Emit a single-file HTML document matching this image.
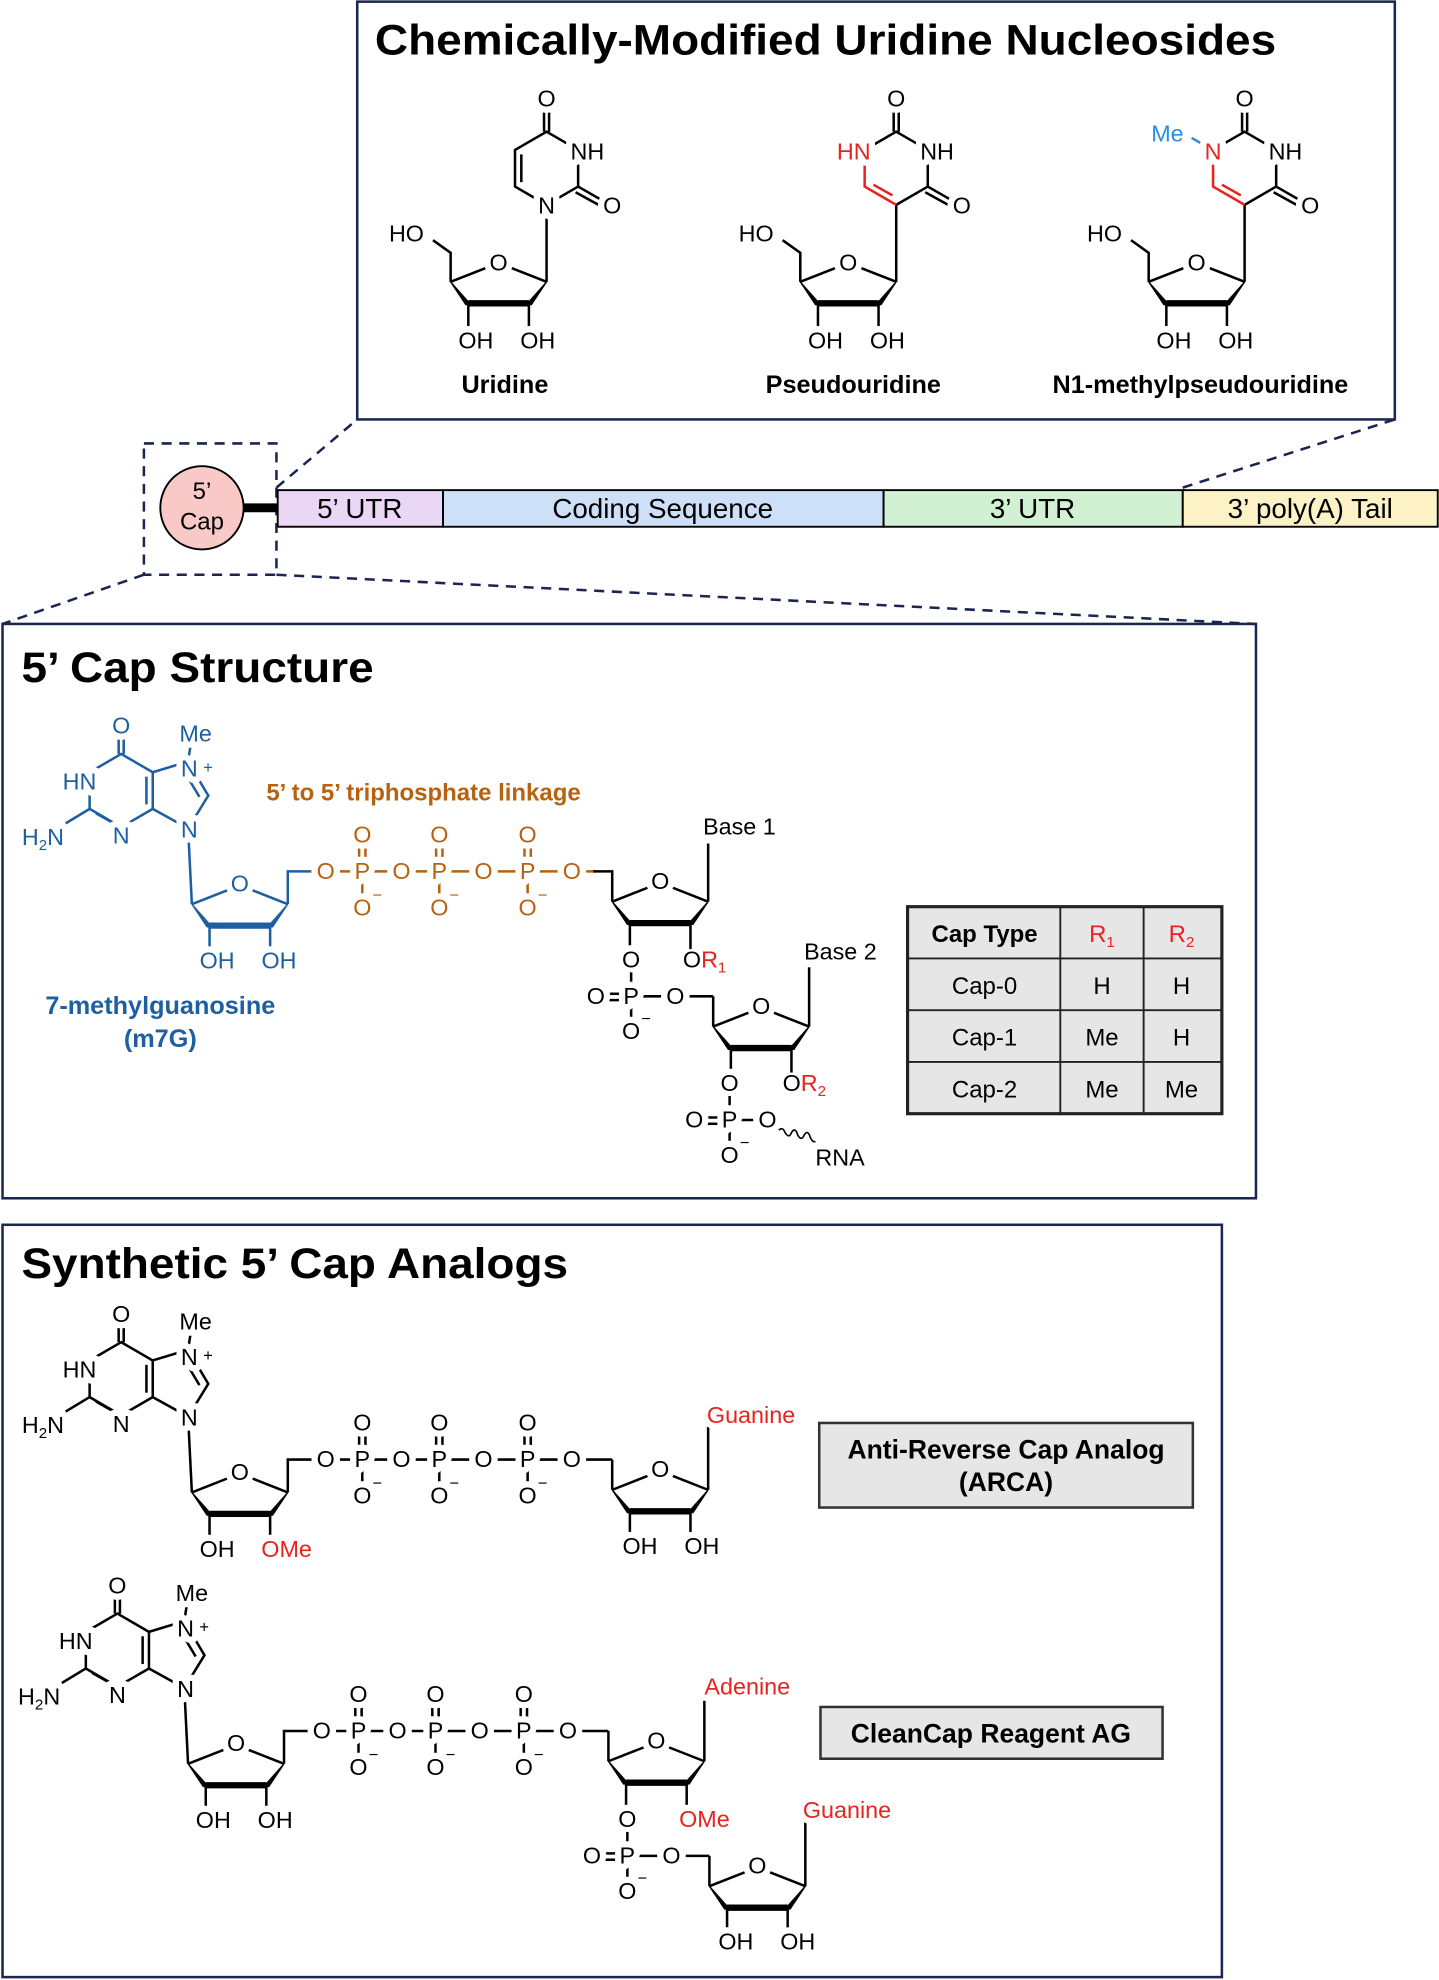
<!DOCTYPE html>
<html><head><meta charset="utf-8"><style>
html,body{margin:0;padding:0;background:#fff}
svg{display:block}
text{font-family:"Liberation Sans",sans-serif;paint-order:stroke;stroke:#fff;stroke-width:10px;stroke-linejoin:round}
text.m{stroke-width:4px}
.a{font-size:18.5px;text-anchor:middle}
.s{font-size:18.5px}
.t{font-weight:bold;font-size:34px;stroke:none}
.lb{font-weight:bold;font-size:20px;text-anchor:middle;stroke:none}
.mol line,.mol path,.mol polyline{stroke:currentColor;fill:none;stroke-width:2}
.mol text{fill:currentColor}
.r{fill:#e8231f !important}
.bar text{font-size:22px;text-anchor:middle;stroke:none}
.tb text{font-size:19px;text-anchor:middle;stroke:none}
</style></head><body>
<svg width="1439" height="1980" viewBox="0 0 1140 1568" xmlns="http://www.w3.org/2000/svg">
<defs>
<g id="ribA">
<line x1="-10" y1="5" x2="-38" y2="16" stroke="currentColor" stroke-width="2"/>
<line x1="10" y1="5" x2="38" y2="16" stroke="currentColor" stroke-width="2"/>
<polygon points="-38,16 -22,34 -26,34" fill="currentColor" stroke="currentColor" stroke-width="1"/>
<polygon points="38,16 22,34 26,34" fill="currentColor" stroke="currentColor" stroke-width="1"/>
<line x1="-24" y1="33" x2="24" y2="33" stroke="currentColor" stroke-width="5"/>
</g>
</defs>

<!-- Top box -->
<rect x="283" y="1" width="822" height="331" fill="#fff" stroke="#1a2550" stroke-width="2"/>
<text x="297" y="43" class="t" textLength="714" lengthAdjust="spacingAndGlyphs">Chemically-Modified Uridine Nucleosides</text>

<!-- Uridine -->
<g class="mol" style="color:#000">
<use href="#ribA" x="395" y="207"/>
<text class="a" x="395" y="214">O</text>
<line x1="433" y1="223" x2="433" y2="162"/>
<polyline points="357,223 357,200 343,190"/>
<text class="a" x="322" y="191">HO</text>
<line x1="371" y1="240" x2="371" y2="258"/><line x1="419" y1="240" x2="419" y2="258"/>
<text class="a" x="377" y="276">OH</text><text class="a" x="426" y="276">OH</text>
<path d="M433,162 L458,147.5 L458,118.5 L433,104 L408,118.5 L408,147.5 Z"/>
<line x1="413" y1="122" x2="413" y2="144"/>
<line x1="458" y1="147.5" x2="478" y2="159"/><line x1="456" y1="152" x2="476" y2="163"/>
<line x1="431" y1="104" x2="431" y2="86"/><line x1="435" y1="104" x2="435" y2="86"/>
<text class="a" x="433" y="169">N</text>
<text class="s" x="452" y="126">NH</text>
<text class="a" x="485" y="169">O</text>
<text class="a" x="433" y="84">O</text>
<text class="lb" x="400" y="311">Uridine</text>
</g>

<!-- Pseudouridine -->
<g class="mol" style="color:#000">
<use href="#ribA" x="672" y="207"/>
<text class="a" x="672" y="214">O</text>
<line x1="710" y1="223" x2="710" y2="162"/>
<polyline points="634,223 634,200 620,190"/>
<text class="a" x="599" y="191">HO</text>
<line x1="648" y1="240" x2="648" y2="258"/><line x1="696" y1="240" x2="696" y2="258"/>
<text class="a" x="654" y="276">OH</text><text class="a" x="703" y="276">OH</text>
<path d="M710,162 L735,147.5 L735,118.5 L710,104 L685,118.5"/>
<path d="M685,118.5 L685,147.5 L710,162" style="stroke:#e8231f"/>
<line x1="692" y1="146" x2="707" y2="154.5" style="stroke:#e8231f"/>
<line x1="735" y1="147.5" x2="755" y2="159"/><line x1="733" y1="152" x2="753" y2="163"/>
<line x1="708" y1="104" x2="708" y2="86"/><line x1="712" y1="104" x2="712" y2="86"/>
<text class="s" x="729" y="126">NH</text>
<text class="s r" x="663" y="126">HN</text>
<text class="a" x="762" y="169">O</text>
<text class="a" x="710" y="84">O</text>
<text class="lb" x="676" y="311">Pseudouridine</text>
</g>

<!-- N1-methylpseudouridine -->
<g class="mol" style="color:#000">
<use href="#ribA" x="948" y="207"/>
<text class="a" x="948" y="214">O</text>
<line x1="986" y1="223" x2="986" y2="162"/>
<polyline points="910,223 910,200 896,190"/>
<text class="a" x="875" y="191">HO</text>
<line x1="924" y1="240" x2="924" y2="258"/><line x1="972" y1="240" x2="972" y2="258"/>
<text class="a" x="930" y="276">OH</text><text class="a" x="979" y="276">OH</text>
<path d="M986,162 L1011,147.5 L1011,118.5 L986,104 L961,118.5"/>
<path d="M961,118.5 L961,147.5 L986,162" style="stroke:#e8231f"/>
<line x1="968" y1="146" x2="983" y2="154.5" style="stroke:#e8231f"/>
<line x1="961" y1="118.5" x2="944" y2="109" style="stroke:#2a8de0"/>
<line x1="1011" y1="147.5" x2="1031" y2="159"/><line x1="1009" y1="152" x2="1029" y2="163"/>
<line x1="984" y1="104" x2="984" y2="86"/><line x1="988" y1="104" x2="988" y2="86"/>
<text class="s" x="1005" y="126">NH</text>
<text class="a r" x="961" y="126">N</text>
<text class="s m" x="912" y="112" style="fill:#2a8de0">Me</text>
<text class="a" x="1038" y="169">O</text>
<text class="a" x="986" y="84">O</text>
<text class="lb" x="951" y="311">N1-methylpseudouridine</text>
</g>

<!-- dashed connectors -->
<g stroke="#1a2550" stroke-width="2" stroke-dasharray="8,6" fill="none">
<rect x="114" y="351" width="105" height="104"/>
<line x1="219" y1="386" x2="283" y2="332"/>
<line x1="937" y1="386" x2="1105" y2="332"/>
<line x1="114" y1="455" x2="2" y2="494"/>
<line x1="219" y1="455" x2="995" y2="494"/>
</g>

<!-- mRNA bar -->
<g class="bar">
<line x1="190" y1="402" x2="222" y2="402" stroke="#000" stroke-width="7"/>
<circle cx="160" cy="402" r="33" fill="#f8c9c6" stroke="#000" stroke-width="1.5"/>
<text x="160" y="395" style="font-size:19px">5’</text>
<text x="160" y="419" style="font-size:19px">Cap</text>
<rect x="220" y="388" width="131" height="29" fill="#ead6f5" stroke="#000" stroke-width="1.5"/>
<rect x="351" y="388" width="349" height="29" fill="#cde0f7" stroke="#000" stroke-width="1.5"/>
<rect x="700" y="388" width="237" height="29" fill="#d2f0d2" stroke="#000" stroke-width="1.5"/>
<rect x="937" y="388" width="202" height="29" fill="#fdf2c6" stroke="#000" stroke-width="1.5"/>
<text x="285" y="410">5’ UTR</text>
<text x="525" y="410">Coding Sequence</text>
<text x="818" y="410">3’ UTR</text>
<text x="1038" y="410">3’ poly(A) Tail</text>
</g>

<!-- Cap structure box -->
<rect x="2" y="494" width="993" height="455" fill="none" stroke="#1a2550" stroke-width="2"/>
<text x="17" y="540" class="t" textLength="279" lengthAdjust="spacingAndGlyphs">5’ Cap Structure</text>

<!-- m7G blue -->
<g class="mol" style="color:#1d5fa0">
<path d="M96,597 L71,611.5 L71,640.5 L96,655 L121,640.5 L121,611.5 Z"/>
<path d="M121,611.5 L149,603 L165,630 L149,656 L121,640.5"/>
<line x1="116" y1="615" x2="116" y2="637"/>
<line x1="76" y1="644" x2="92" y2="653"/>
<line x1="146" y1="611" x2="158" y2="631"/>
<line x1="94" y1="597" x2="94" y2="583"/><line x1="98" y1="597" x2="98" y2="583"/>
<line x1="71" y1="640.5" x2="52" y2="652"/>
<line x1="149" y1="603" x2="151" y2="590"/>
<line x1="149" y1="656" x2="152" y2="716"/>
<text class="a" x="96" y="581">O</text>
<text class="a" x="155" y="587">Me</text>
<text class="a" x="150" y="615">N</text><text class="m" x="161" y="612" style="font-size:13px">+</text>
<text class="a" x="63" y="625">HN</text>
<text class="a m" x="34" y="669">H<tspan font-size="12" dy="4">2</tspan><tspan dy="-4">N</tspan></text>
<text class="a" x="96" y="668">N</text>
<text class="a" x="150" y="663">N</text>
<use href="#ribA" transform="translate(190,700) scale(-1,1)"/>
<text class="a" x="190" y="706">O</text>
<line x1="166" y1="733" x2="166" y2="751"/><line x1="214" y1="733" x2="214" y2="751"/>
<text class="a" x="172" y="767">OH</text><text class="a" x="221" y="767">OH</text>
<polyline points="228,716 228,690 248,690"/>
<text class="lb" x="127" y="803" style="font-size:20px">7-methylguanosine</text>
<text class="lb" x="127" y="829" style="font-size:20px">(m7G)</text>
</g>

<!-- triphosphate orange -->
<g class="mol" style="color:#b8620f">
<line x1="246" y1="690" x2="472" y2="690"/>
<g id="ph">
<line x1="284.5" y1="671" x2="284.5" y2="682"/><line x1="289.5" y1="671" x2="289.5" y2="682"/>
<line x1="287" y1="699" x2="287" y2="711"/>
</g>
<use href="#ph" x="61"/><use href="#ph" x="131"/>
<text class="a" x="258" y="696">O</text><text class="a" x="287" y="696">P</text>
<text class="a" x="318" y="696">O</text><text class="a" x="348" y="696">P</text>
<text class="a" x="383" y="696">O</text><text class="a" x="418" y="696">P</text>
<text class="a" x="453" y="696">O</text>
<text class="a" x="287" y="667">O</text><text class="a" x="348" y="667">O</text><text class="a" x="418" y="667">O</text>
<text class="a" x="287" y="725">O</text><text class="a" x="348" y="725">O</text><text class="a" x="418" y="725">O</text>
<text class="m" x="295" y="713" style="font-size:13px">−</text><text class="m" x="356" y="713" style="font-size:13px">−</text><text class="m" x="426" y="713" style="font-size:13px">−</text>
<text x="211" y="634" style="font-weight:bold;font-size:19px;stroke:none">5’ to 5’ triphosphate linkage</text>
</g>

<!-- black riboses cap -->
<g class="mol" style="color:#000">
<polyline points="470,690 485,690 485,714"/>
<use href="#ribA" x="523" y="698"/>
<text class="a" x="523" y="704">O</text>
<line x1="561" y1="714" x2="561" y2="668"/>
<text class="s" x="557" y="661">Base 1</text>
<line x1="499" y1="731" x2="499" y2="752"/><line x1="547" y1="731" x2="547" y2="752"/>
<text class="a" x="500" y="766">O</text>
<text class="s m" x="541" y="766">O<tspan class="r">R</tspan><tspan class="r" font-size="12" dy="4">1</tspan></text>
<line x1="500" y1="770" x2="500" y2="782"/>
<line x1="480" y1="787" x2="492" y2="787"/><line x1="480" y1="792" x2="492" y2="792"/>
<line x1="508" y1="789" x2="565" y2="789"/>
<line x1="500" y1="798" x2="500" y2="808"/>
<text class="a" x="500" y="795">P</text><text class="a" x="472" y="795">O</text><text class="a" x="535" y="795">O</text>
<text class="a" x="500" y="823">O</text><text class="m" x="508" y="811" style="font-size:13px">−</text>
<line x1="565" y1="789" x2="565" y2="813"/>
<use href="#ribA" x="603" y="797"/>
<text class="a" x="603" y="803">O</text>
<line x1="641" y1="813" x2="641" y2="766"/>
<text class="s" x="637" y="760">Base 2</text>
<line x1="579" y1="830" x2="579" y2="850"/><line x1="627" y1="830" x2="627" y2="850"/>
<text class="a" x="578" y="864">O</text>
<text class="s m" x="620" y="864">O<tspan class="r">R</tspan><tspan class="r" font-size="12" dy="4">2</tspan></text>
<line x1="578" y1="868" x2="578" y2="881"/>
<line x1="558" y1="885" x2="570" y2="885"/><line x1="558" y1="890" x2="570" y2="890"/>
<line x1="586" y1="887" x2="600" y2="887"/>
<line x1="578" y1="896" x2="578" y2="906"/>
<text class="a" x="578" y="893">P</text><text class="a" x="550" y="893">O</text><text class="a" x="608" y="893">O</text>
<text class="a" x="578" y="921">O</text><text class="m" x="586" y="909" style="font-size:13px">−</text>
<path d="M617,895 q3,-3 5,2 q3,5 5,0 q3,-5 5,2 q3,5 5,0 q3,-5 5,2 q2,4 4,3" style="stroke-width:1.3"/>
<text class="s" x="646" y="923">RNA</text>
</g>

<!-- table -->
<g class="tb">
<rect x="719" y="718" width="249" height="164" fill="#e6e6e6" stroke="#222" stroke-width="2.5"/>
<g stroke="#222" stroke-width="1.5">
<line x1="840" y1="718" x2="840" y2="882"/><line x1="906" y1="718" x2="906" y2="882"/>
<line x1="719" y1="759" x2="968" y2="759"/><line x1="719" y1="800" x2="968" y2="800"/><line x1="719" y1="841" x2="968" y2="841"/>
</g>
<text x="780" y="746" font-weight="bold">Cap Type</text>
<text x="873" y="746" fill="#e8231f">R<tspan font-size="12" dy="4">1</tspan></text>
<text x="936" y="746" fill="#e8231f">R<tspan font-size="12" dy="4">2</tspan></text>
<text x="780" y="787">Cap-0</text><text x="873" y="787">H</text><text x="936" y="787">H</text>
<text x="780" y="828">Cap-1</text><text x="873" y="828">Me</text><text x="936" y="828">H</text>
<text x="780" y="869">Cap-2</text><text x="873" y="869">Me</text><text x="936" y="869">Me</text>
</g>

<!-- Analogs box -->
<rect x="2" y="970" width="966" height="596" fill="none" stroke="#1a2550" stroke-width="2"/>
<text x="17" y="1012" class="t" textLength="433" lengthAdjust="spacingAndGlyphs">Synthetic 5’ Cap Analogs</text>

<!-- ARCA -->
<g class="mol" style="color:#000" transform="translate(0,466)">
<path d="M96,597 L71,611.5 L71,640.5 L96,655 L121,640.5 L121,611.5 Z"/>
<path d="M121,611.5 L149,603 L165,630 L149,656 L121,640.5"/>
<line x1="116" y1="615" x2="116" y2="637"/>
<line x1="76" y1="644" x2="92" y2="653"/>
<line x1="146" y1="611" x2="158" y2="631"/>
<line x1="94" y1="597" x2="94" y2="583"/><line x1="98" y1="597" x2="98" y2="583"/>
<line x1="71" y1="640.5" x2="52" y2="652"/>
<line x1="149" y1="603" x2="151" y2="590"/>
<line x1="149" y1="656" x2="152" y2="716"/>
<text class="a" x="96" y="581">O</text>
<text class="a" x="155" y="587">Me</text>
<text class="a" x="150" y="615">N</text><text class="m" x="161" y="612" style="font-size:13px">+</text>
<text class="a" x="63" y="625">HN</text>
<text class="a m" x="34" y="669">H<tspan font-size="12" dy="4">2</tspan><tspan dy="-4">N</tspan></text>
<text class="a" x="96" y="668">N</text>
<text class="a" x="150" y="663">N</text>
<use href="#ribA" transform="translate(190,700) scale(-1,1)"/>
<text class="a" x="190" y="706">O</text>
<line x1="166" y1="733" x2="166" y2="751"/><line x1="214" y1="733" x2="214" y2="751"/>
<text class="a" x="172" y="767">OH</text><text class="s r" x="207" y="767">OMe</text>
<polyline points="228,716 228,690 248,690"/>
<line x1="246" y1="690" x2="485" y2="690"/>
<use href="#ph" x="0"/><use href="#ph" x="61"/><use href="#ph" x="131"/>
<text class="a" x="258" y="696">O</text><text class="a" x="287" y="696">P</text>
<text class="a" x="318" y="696">O</text><text class="a" x="348" y="696">P</text>
<text class="a" x="383" y="696">O</text><text class="a" x="418" y="696">P</text>
<text class="a" x="453" y="696">O</text>
<text class="a" x="287" y="667">O</text><text class="a" x="348" y="667">O</text><text class="a" x="418" y="667">O</text>
<text class="a" x="287" y="725">O</text><text class="a" x="348" y="725">O</text><text class="a" x="418" y="725">O</text>
<text class="m" x="295" y="713" style="font-size:13px">−</text><text class="m" x="356" y="713" style="font-size:13px">−</text><text class="m" x="426" y="713" style="font-size:13px">−</text>
<line x1="485" y1="690" x2="485" y2="714"/>
<use href="#ribA" x="523" y="698"/>
<text class="a" x="523" y="704">O</text>
<line x1="561" y1="714" x2="561" y2="664"/>
<text class="a r" x="595" y="661">Guanine</text>
<line x1="499" y1="731" x2="499" y2="750"/><line x1="547" y1="731" x2="547" y2="750"/>
<text class="a" x="507" y="765">OH</text><text class="a" x="556" y="765">OH</text>
</g>
<rect x="649" y="1127" width="296" height="67" fill="#e6e6e6" stroke="#333" stroke-width="2"/>
<text class="lb" x="797" y="1155" style="font-size:21px">Anti-Reverse Cap Analog</text>
<text class="lb" x="797" y="1181" style="font-size:21px">(ARCA)</text>

<!-- CleanCap -->
<g class="mol" style="color:#000" transform="translate(-3,681)">
<path d="M96,597 L71,611.5 L71,640.5 L96,655 L121,640.5 L121,611.5 Z"/>
<path d="M121,611.5 L149,603 L165,630 L149,656 L121,640.5"/>
<line x1="116" y1="615" x2="116" y2="637"/>
<line x1="76" y1="644" x2="92" y2="653"/>
<line x1="146" y1="611" x2="158" y2="631"/>
<line x1="94" y1="597" x2="94" y2="583"/><line x1="98" y1="597" x2="98" y2="583"/>
<line x1="71" y1="640.5" x2="52" y2="652"/>
<line x1="149" y1="603" x2="151" y2="590"/>
<line x1="149" y1="656" x2="152" y2="716"/>
<text class="a" x="96" y="581">O</text>
<text class="a" x="155" y="587">Me</text>
<text class="a" x="150" y="615">N</text><text class="m" x="161" y="612" style="font-size:13px">+</text>
<text class="a" x="63" y="625">HN</text>
<text class="a m" x="34" y="669">H<tspan font-size="12" dy="4">2</tspan><tspan dy="-4">N</tspan></text>
<text class="a" x="96" y="668">N</text>
<text class="a" x="150" y="663">N</text>
<use href="#ribA" transform="translate(190,700) scale(-1,1)"/>
<text class="a" x="190" y="706">O</text>
<line x1="166" y1="733" x2="166" y2="751"/><line x1="214" y1="733" x2="214" y2="751"/>
<text class="a" x="172" y="767">OH</text><text class="a" x="221" y="767">OH</text>
<polyline points="228,716 228,690 248,690"/>
<line x1="246" y1="690" x2="485" y2="690"/>
<use href="#ph" x="0"/><use href="#ph" x="61"/><use href="#ph" x="131"/>
<text class="a" x="258" y="696">O</text><text class="a" x="287" y="696">P</text>
<text class="a" x="318" y="696">O</text><text class="a" x="348" y="696">P</text>
<text class="a" x="383" y="696">O</text><text class="a" x="418" y="696">P</text>
<text class="a" x="453" y="696">O</text>
<text class="a" x="287" y="667">O</text><text class="a" x="348" y="667">O</text><text class="a" x="418" y="667">O</text>
<text class="a" x="287" y="725">O</text><text class="a" x="348" y="725">O</text><text class="a" x="418" y="725">O</text>
<text class="m" x="295" y="713" style="font-size:13px">−</text><text class="m" x="356" y="713" style="font-size:13px">−</text><text class="m" x="426" y="713" style="font-size:13px">−</text>
<line x1="485" y1="690" x2="485" y2="714"/>
<use href="#ribA" x="523" y="698"/>
<text class="a" x="523" y="704">O</text>
<line x1="561" y1="714" x2="561" y2="664"/>
<text class="a r" x="595" y="661">Adenine</text>
<line x1="499" y1="731" x2="499" y2="752"/><line x1="547" y1="731" x2="547" y2="752"/>
<text class="a" x="500" y="766">O</text>
<text class="s r" x="541" y="766">OMe</text>
<line x1="500" y1="770" x2="500" y2="782"/>
<line x1="480" y1="787" x2="492" y2="787"/><line x1="480" y1="792" x2="492" y2="792"/>
<line x1="508" y1="789" x2="565" y2="789"/>
<line x1="500" y1="798" x2="500" y2="808"/>
<text class="a" x="500" y="795">P</text><text class="a" x="472" y="795">O</text><text class="a" x="535" y="795">O</text>
<text class="a" x="500" y="823">O</text><text class="m" x="508" y="811" style="font-size:13px">−</text>
<line x1="565" y1="789" x2="565" y2="813"/>
<use href="#ribA" x="603" y="797"/>
<text class="a" x="603" y="803">O</text>
<line x1="641" y1="813" x2="641" y2="762"/>
<text class="a r" x="674" y="759">Guanine</text>
<line x1="579" y1="830" x2="579" y2="848"/><line x1="627" y1="830" x2="627" y2="848"/>
<text class="a" x="586" y="863">OH</text><text class="a" x="635" y="863">OH</text>
</g>
<rect x="650" y="1352" width="271" height="41" fill="#e6e6e6" stroke="#333" stroke-width="2"/>
<text class="lb" x="785" y="1380" style="font-size:21px">CleanCap Reagent AG</text>
</svg>
</body></html>
